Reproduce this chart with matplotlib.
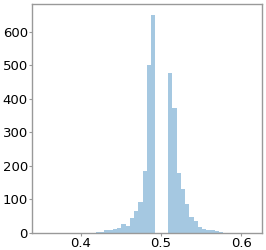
import numpy as np
import matplotlib
matplotlib.use("Agg")
import matplotlib.pyplot as plt

# histogram of values, bin width and edge
bin_width = 0.0053
first_edge = 0.4929 - 21 * 0.0053
counts = [1, 0, 1, 0, 1, 0, 1, 2,
          3, 10, 10, 13, 16, 28, 22, 45, 65, 92, 186, 500, 650,
          0, 0, 0,
          477, 374, 178, 130, 87, 49, 36, 19, 12, 10, 9, 7, 2,
          1, 0, 0, 1]

edges = first_edge + bin_width * np.arange(len(counts))

fig = plt.figure(figsize=(2.66, 2.5), dpi=100)
ax = fig.add_axes([0.120, 0.068, 0.865, 0.916])

ax.bar(edges, counts, width=bin_width, align='edge',
       color='#1f77b4', alpha=0.4, linewidth=0)

ax.set_xlim(0.3388, 0.626)
ax.set_ylim(0, 650 * 1.05)
ax.set_xticks([0.4, 0.5, 0.6])
ax.set_yticks([0, 100, 200, 300, 400, 500, 600])

for s in ax.spines.values():
    s.set_color('#999999')
    s.set_linewidth(1)
ax.tick_params(labelsize=9.5, length=2, color='#999999', pad=1)

fig.savefig('out.png', dpi=100)
